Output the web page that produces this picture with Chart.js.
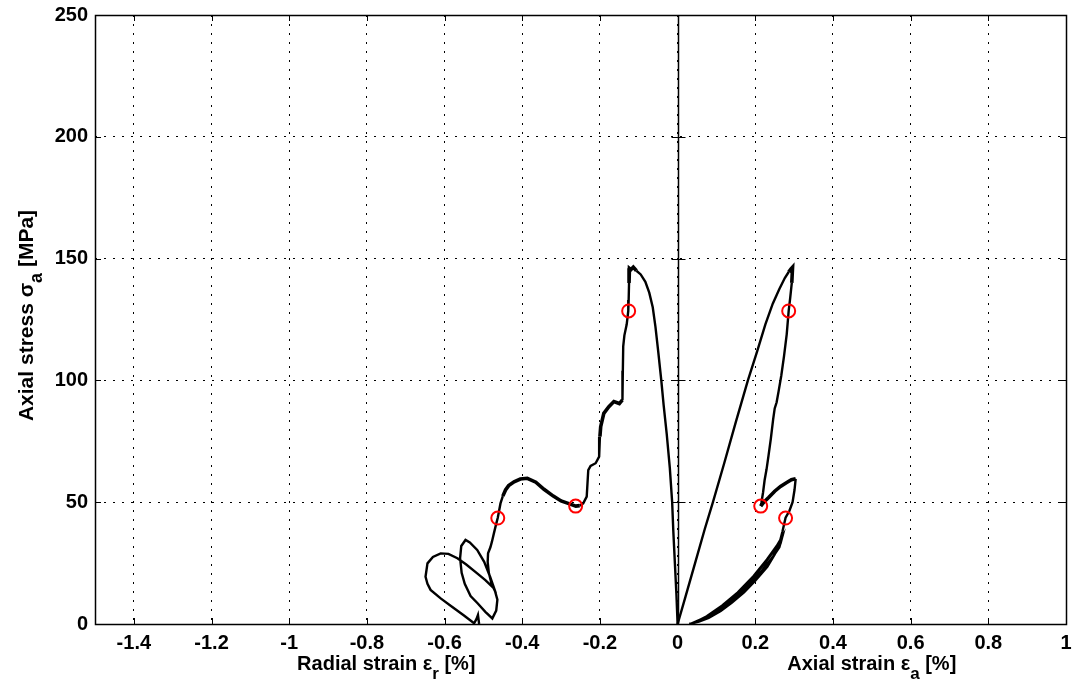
<!DOCTYPE html>
<html><head><meta charset="utf-8">
<script src="https://cdn.jsdelivr.net/npm/chart.js@4.4.1/dist/chart.umd.min.js"></script>
<style>html,body{margin:0;padding:0;background:#fff}#wrap{width:1076px;height:693px;position:relative}</style>
</head><body><div id="wrap"><canvas id="c"></canvas></div>
<script>
// ---- tick values ----
const xTicks = [-1.4,-1.2,-1,-0.8,-0.6,-0.4,-0.2,0,0.2,0.4,0.6,0.8,1];
const yTicks = [0,50,100,150,200,250];

// ---- radial strain curve (left branch) ----
const radialX = [0,-0.003,-0.007,-0.011,-0.014,-0.02,-0.028,-0.036,-0.042,-0.05,-0.057,-0.064,-0.073,-0.083,-0.095,-0.106,-0.114,-0.12,-0.124,
 -0.125,-0.126,-0.127,-0.131,-0.137,-0.14,-0.141,-0.142,-0.15,-0.164,-0.177,-0.19,-0.198,-0.2,-0.202,-0.211,-0.224,-0.23,-0.232,-0.234,-0.243,-0.252,-0.262,
 -0.28,-0.3,-0.32,-0.344,-0.365,-0.387,-0.405,-0.421,-0.435,-0.443,-0.45,-0.456,-0.463,-0.468,-0.473,-0.478,-0.482,-0.488,
 -0.489,-0.486,-0.479,-0.47,-0.464,-0.467,-0.477,-0.495,-0.515,-0.533,-0.548,-0.556,-0.56,-0.557,-0.546,-0.535,-0.516,-0.498,-0.483,-0.472,
 -0.495,-0.516,-0.545,-0.567,-0.59,-0.61,-0.63,-0.644,-0.649,-0.644,-0.636,-0.61,-0.58,-0.55,-0.524,-0.518,-0.514,-0.511];
const radialY = [0,12,25,38,50,64,78,90,100,112,122,130,136,140.5,143.5,145,146.5,145.5,146,
 140,133,128.5,123,118.5,114,104,92,90.5,91.3,89.2,86.5,81,76.9,68.7,66,64.9,63.2,57.8,52.3,49.5,48.6,48.4,
 49.4,50.5,52.5,55.3,58.2,59.8,59.5,58.4,56.8,55,52.5,49.5,43.6,40.5,37.2,33.8,31.5,29,
 25.5,21,16.5,13.5,10,5.5,2.3,5,8.5,11.5,16.5,21,27,32,34.5,33.5,30.4,25.5,19.5,14.5,
 18,20.8,24.5,27,28.8,29,27.5,24.9,19.4,16.5,14,10.5,7,3.5,0.3,2,3.7,0];

// ---- axial strain curve (right branch) ----
const axialX = [0,0.02,0.045,0.07,0.091,0.12,0.15,0.181,0.205,0.226,0.245,0.262,0.276,0.286,0.292,0.296,
 0.294,0.29,0.286,0.281,0.274,0.267,0.26,0.255,0.25,0.246,0.24,0.234,0.229,0.224,0.22,0.216,0.214,
 0.222,0.235,0.25,0.265,0.28,0.293,0.304,0.301,0.296,0.288,0.278,0.27,0.262,0.25,0.231,0.2,0.171,0.14,0.111,0.08,0.055,0.035,
 0.07,0.11,0.15,0.19,0.225,0.25,0.268,0.262,0.24,0.21,0.175,0.14,0.1,0.065,0.04,
 0.075,0.115,0.155,0.195,0.23,0.255,0.27,0.265,0.245,0.215,0.18,0.145,0.105,0.07,0.045,0.03];
const axialY = [0,11,25,39,50,66,83,100,112,123,131.5,137.5,142,144.5,145.8,146.5,
 140,134,128.5,119,110,102,95.5,91,88.5,84,76,69,63.5,59,54,50,48.4,
 50,52,54.5,56.5,58,59.2,59.6,55,50,46.5,43.6,38,33,28.5,23.5,17.8,13,8.8,5.3,2.5,1,0.2,
 2.6,6.8,12,18.3,25,30.5,35,31.5,26.3,20.5,14.6,9.6,5,2,0.3,
 3.2,7.6,13,19.6,26.5,32,36,33,27.5,21.5,15.4,10.2,5.6,2.4,0.6,0];

// ---- marked points (red circles) ----
const markX = [-0.126,-0.2625,-0.463,0.286,0.214,0.278];
const markY = [128.5,48.4,43.5,128.5,48.4,43.5];

// ---- x = 0 reference line ----
const zeroLineX = [0,0];
const zeroLineY = [0,250];

const FONT = "'Liberation Sans', Arial, Helvetica, sans-serif";
const toPts = (xs, ys) => xs.map((v, i) => ({x: v, y: ys[i]}));

function drawRich(ctx, parts, cx, by, size, subSize, subDy) {
  let total = 0;
  const widths = parts.map(p => {
    ctx.font = 'bold ' + (p.sub ? subSize : size) + 'px ' + FONT;
    const w = ctx.measureText(p.t).width; total += w; return w;
  });
  let x = cx - total / 2;
  parts.forEach((p, i) => {
    ctx.font = 'bold ' + (p.sub ? subSize : size) + 'px ' + FONT;
    ctx.fillText(p.t, x, by + (p.sub ? subDy : 0));
    x += widths[i];
  });
}

const frame = {
  id: 'frame',
  afterDatasetsDraw(chart) {
    const {ctx, chartArea: a, scales: {x, y}} = chart;
    const ln = (x1, y1, x2, y2) => { ctx.beginPath(); ctx.moveTo(x1, y1); ctx.lineTo(x2, y2); ctx.stroke(); };
    ctx.save();
    ctx.strokeStyle = '#000';
    const x0 = Math.round(x.getPixelForValue(zeroLineX[0])) + 0.5;
    ctx.lineWidth = 1.5;
    ln(x0, y.getPixelForValue(zeroLineY[0]), x0, y.getPixelForValue(zeroLineY[1]));
    ctx.lineWidth = 1;
    xTicks.forEach(v => {
      const px = Math.round(x.getPixelForValue(v)) + 0.5;
      ln(px, a.bottom, px, a.bottom - 6);
      ln(px, a.top, px, a.top + 6);
    });
    yTicks.forEach(v => {
      const py = Math.round(y.getPixelForValue(v)) + 0.5;
      ln(a.left, py, a.left + 6, py);
      ln(a.right, py, a.right - 6, py);
      ln(x0 - 7, py, x0 + 7, py);
    });
    ctx.lineWidth = 1.5;
    ctx.strokeRect(Math.round(a.left) + 0.5, Math.round(a.top) + 0.5, Math.round(a.right - a.left), Math.round(a.bottom - a.top));
    ctx.restore();
  },
  afterDraw(chart) {
    const {ctx, chartArea: a, scales: {x}} = chart;
    ctx.save();
    ctx.fillStyle = '#000';
    ctx.textBaseline = 'alphabetic';
    ctx.textAlign = 'left';
    drawRich(ctx, [{t: 'Radial strain \u03b5'}, {t: 'r', sub: true}, {t: ' [%]'}], x.getPixelForValue(-0.75), 670, 20, 17, 9);
    drawRich(ctx, [{t: 'Axial strain \u03b5'}, {t: 'a', sub: true}, {t: ' [%]'}], x.getPixelForValue(0.5), 670, 20, 17, 9);
    ctx.translate(33, (a.top + a.bottom) / 2 - 4);
    ctx.rotate(-Math.PI / 2);
    drawRich(ctx, [{t: 'Axial stress \u03c3'}, {t: 'a', sub: true}, {t: ' [MPa]'}], 0, 0, 21, 18, 9);
    ctx.restore();
  }
};

const tickFont = {family: FONT, size: 20, weight: 'bold'};

// thicker stroke where the recorded signal is noisy
const noisyRadial = c => {
  const p = c.p0.parsed;
  return (p.x <= -0.245 && p.x >= -0.445 && p.y > 45) || (p.x <= -0.142 && p.x >= -0.2 && p.y > 80) || (p.y > 144) ? 3.6 : 2.4;
};
const noisyAxial = c => ((c.p0DataIndex >= 32 && c.p0DataIndex < 39) || c.p0.parsed.y > 143 ? 3.6 : 2.4);

new Chart(document.getElementById('c'), {
  type: 'scatter',
  data: {
    datasets: [
      {data: toPts(markX, markY), pointStyle: 'circle', pointRadius: 6.5, pointBorderWidth: 2,
       pointBorderColor: '#ff0000', pointBackgroundColor: 'rgba(0,0,0,0)', showLine: false},
      {data: toPts(radialX, radialY), showLine: true, borderColor: '#000', borderWidth: 2.4, pointRadius: 0, tension: 0,
       segment: {borderWidth: noisyRadial}},
      {data: toPts(axialX, axialY), showLine: true, borderColor: '#000', borderWidth: 2.4, pointRadius: 0, tension: 0,
       segment: {borderWidth: noisyAxial}}
    ]
  },
  options: {
    responsive: true, maintainAspectRatio: false, animation: false,
    layout: {padding: {left: 0, top: 15, right: 10, bottom: 0}},
    plugins: {legend: {display: false}, tooltip: {enabled: false}},
    scales: {
      x: {
        type: 'linear', min: -1.5, max: 1,
        afterBuildTicks: s => { s.ticks = xTicks.map(v => ({value: v})); },
        afterFit: s => { s.height = 69; s.paddingLeft = 0; s.paddingRight = 0; },
        ticks: {font: tickFont, color: '#000', padding: 7, maxRotation: 0, autoSkip: false, callback: v => String(v)},
        grid: {color: '#000', lineWidth: 1, drawTicks: false},
        border: {display: false, dash: [2, 7]}
      },
      y: {
        type: 'linear', min: 0, max: 250,
        afterBuildTicks: s => { s.ticks = yTicks.map(v => ({value: v})); },
        afterFit: s => { s.width = 95; s.paddingTop = 0; s.paddingBottom = 0; },
        ticks: {font: tickFont, color: '#000', padding: 7, callback: v => String(v)},
        grid: {color: '#000', lineWidth: 1, drawTicks: false},
        border: {display: false, dash: [2, 7]}
      }
    }
  },
  plugins: [frame]
});
</script>
</body></html>
